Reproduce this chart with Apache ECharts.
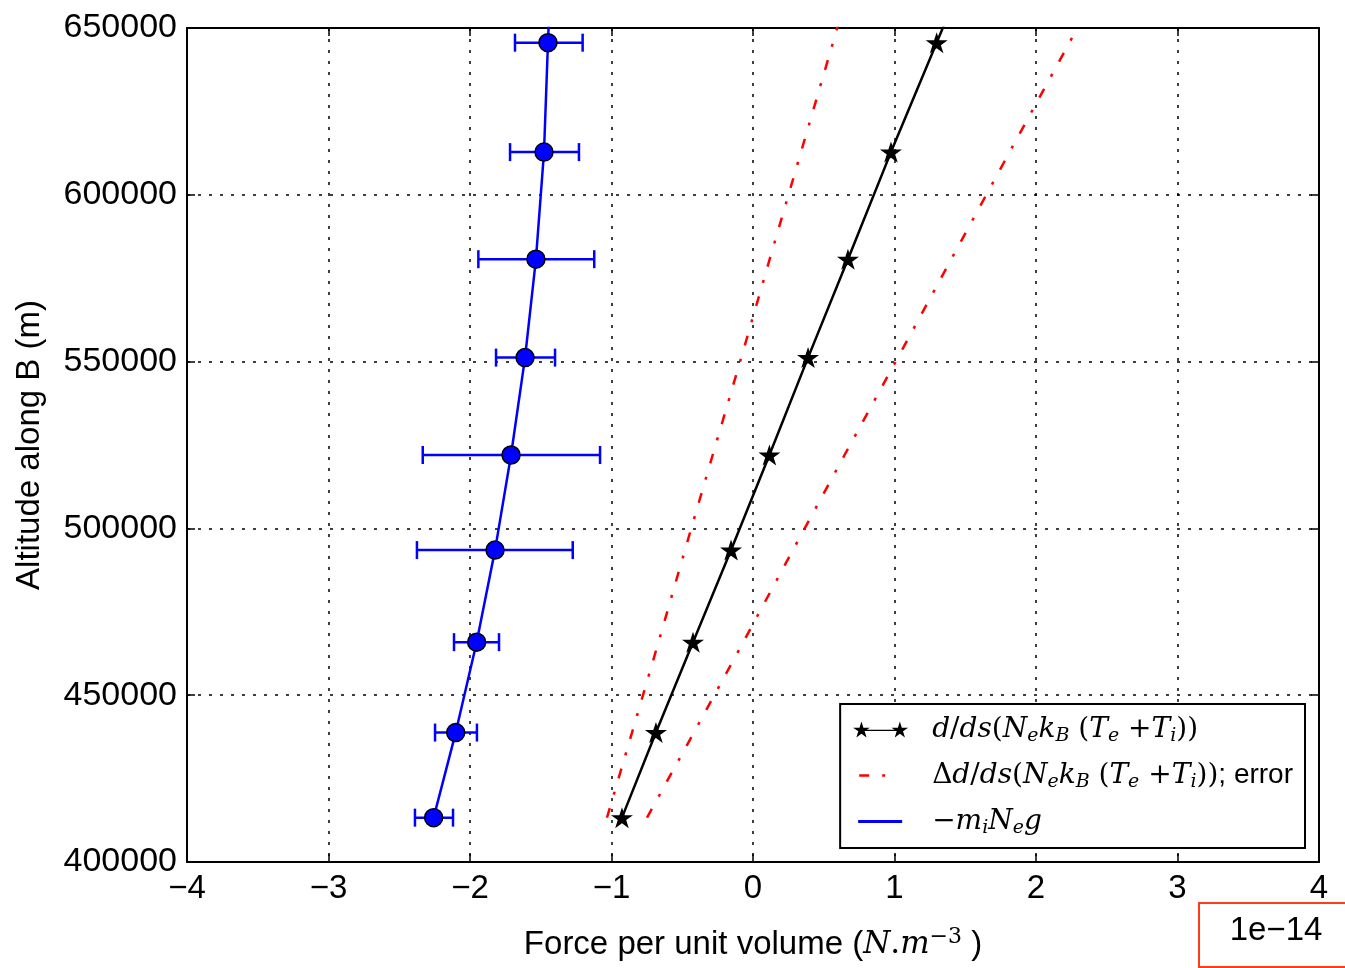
<!DOCTYPE html>
<html><head><meta charset="utf-8">
<script src="https://cdn.jsdelivr.net/npm/echarts@6/dist/echarts.min.js"></script>
<style>html,body{margin:0;padding:0;background:#fff}#c{width:1345px;height:968px}</style>
</head><body><div id="c"></div>
<script>
// Values in units of 1e-14 N.m^-3
const altitudes = [413300, 438800, 465900, 493500, 522000, 551200, 580700, 612800, 645600];
const extAltitude = 677500;
const gravityForce = [-2.257, -2.101, -1.953, -1.823, -1.710, -1.611, -1.534, -1.477, -1.449];
const gravityExt = -1.42;
const gravityLow = [-2.389, -2.247, -2.113, -2.375, -2.334, -1.816, -1.941, -1.717, -1.682];
const gravityHigh = [-2.120, -1.951, -1.795, -1.274, -1.081, -1.399, -1.122, -1.230, -1.204];
const pressureForce = [-0.926, -0.686, -0.424, -0.155, 0.116, 0.389, 0.671, 0.975, 1.298];
const pressureExt = 1.61;
const errorLowLine = [-1.032, -0.855, -0.668, -0.481, -0.285, -0.083, 0.118, 0.339, 0.565, 0.782];
const errorHighLine = [-0.749, -0.418, -0.069, 0.282, 0.647, 1.024, 1.401, 1.813, 2.236, 2.642];
const xTicks = [-4, -3, -2, -1, 0, 1, 2, 3, 4];
const yTicks = [400000, 450000, 500000, 550000, 600000, 650000];
const offsetText = '1e\u221214';

function starPath(cx, cy, R) {
  const r = R * 0.382;
  let d = '';
  for (let k = 0; k < 10; k++) {
    const ang = -Math.PI / 2 + k * Math.PI / 5;
    const rad = k % 2 === 0 ? R : r;
    const x = (cx + rad * Math.cos(ang)).toFixed(2);
    const y = (cy + rad * Math.sin(ang)).toFixed(2);
    d += (k === 0 ? 'M' : 'L') + x + ' ' + y + ' ';
  }
  return d + 'Z';
}
const starSymbol = 'path://' + starPath(50, 50, 50);
const starLineIcon = 'path://' + starPath(25, 25, 25) + ' ' + starPath(135, 25, 25) + ' M25 23 L135 23 L135 27 L25 27 Z';
const dashDotIcon = 'path://M0 1.25 L0 1.26 Z M6 0 L16 0 L16 2.5 L6 2.5 Z M29 0 L32 0 L32 2.5 L29 2.5 Z M55 1.25 L55 1.26 Z';
const lineIcon = 'path://M0 1.5 L0 1.51 Z M5 0 L49 0 L49 3 L5 3 Z M55 1.5 L55 1.51 Z';

const allAlt = altitudes.concat([extAltitude]);
const pressureData = altitudes.map((a, i) => [pressureForce[i], a]).concat([[pressureExt, extAltitude]]);
const gravityData = altitudes.map((a, i) => [gravityForce[i], a]).concat([[gravityExt, extAltitude]]);
const errLowData = allAlt.map((a, i) => [errorLowLine[i], a]);
const errHighData = allAlt.map((a, i) => [errorHighLine[i], a]);
const errBarData = altitudes.map((a, i) => [gravityLow[i], gravityHigh[i], a]);

const minus = v => String(v).replace('-', '\u2212');
const sans = 'Liberation Sans, Arial, sans-serif';
const serif = 'DejaVu Serif, Liberation Serif, serif';

const legendLabels = {
  'pressure': '{g| }{i|d}{r|/}{i|ds}{r|(}{i|N}{s|e}{i|k}{s|B}{r| (}{i|T}{s|e}{r| +}{i|T}{s|i}{r|))}',
  'error': '{g| }{r|\u0394}{i|d}{r|/}{i|ds}{r|(}{i|N}{s|e}{i|k}{s|B}{r| (}{i|T}{s|e}{r| +}{i|T}{s|i}{r|))}{t|; error}',
  'gravity': '{g| }{r|\u2212}{i|m}{s|i}{i|N}{s|e}{i|g}'
};

const axisLineStyle = {color: '#000', width: 2};
const tickStyle = {inside: true, length: 8, lineStyle: {color: '#000', width: 1.5}};
const gridLine = {show: true, lineStyle: {color: '#000', width: 1.5, type: [3, 8]}};

const chart = echarts.init(document.getElementById('c'), null, {renderer: 'canvas'});
chart.setOption({
  animation: false,
  backgroundColor: '#fff',
  grid: {left: 187, right: 26, top: 28, bottom: 106, containLabel: false, outerBoundsMode: 'none'},
  xAxis: [{
    type: 'value', min: xTicks[0], max: xTicks[xTicks.length - 1], interval: 1, position: 'bottom',
    axisLine: {show: true, onZero: false, lineStyle: axisLineStyle},
    axisTick: tickStyle,
    axisLabel: {formatter: minus, fontSize: 33, color: '#000', fontFamily: sans, margin: 10, showMinLabel: true, showMaxLabel: true},
    splitLine: gridLine,
    name: '{t|Force per unit volume (}{i|N}{r|.}{i|m}{p|\u22123}{t| )}',
    nameLocation: 'middle', nameGap: 63, nameMoveOverlap: false,
    nameTextStyle: {rich: {
      t: {fontFamily: sans, fontSize: 33, color: '#000', lineHeight: 40},
      i: {fontFamily: serif, fontStyle: 'italic', fontSize: 31, color: '#000', lineHeight: 40},
      r: {fontFamily: serif, fontSize: 31, color: '#000', lineHeight: 40},
      p: {fontFamily: serif, fontSize: 22, color: '#000', lineHeight: 24, padding: [0, 0, 16, 0]}
    }}
  }, {
    type: 'value', min: xTicks[0], max: xTicks[xTicks.length - 1], interval: 1, position: 'top',
    axisLine: {show: true, onZero: false, lineStyle: axisLineStyle},
    axisTick: tickStyle, axisLabel: {show: false}, splitLine: {show: false}
  }],
  yAxis: [{
    type: 'value', min: yTicks[0], max: yTicks[yTicks.length - 1], interval: 50000, position: 'left',
    axisLine: {show: true, onZero: false, lineStyle: axisLineStyle},
    axisTick: tickStyle,
    axisLabel: {formatter: v => String(v), fontSize: 34, color: '#000', fontFamily: sans, margin: 10, showMinLabel: true, showMaxLabel: true},
    splitLine: gridLine,
    name: 'Altitude along B (m)', nameLocation: 'middle', nameGap: 141, nameMoveOverlap: false,
    nameTextStyle: {fontSize: 33, color: '#000', fontFamily: sans}
  }, {
    type: 'value', min: yTicks[0], max: yTicks[yTicks.length - 1], interval: 50000, position: 'right',
    axisLine: {show: true, onZero: false, lineStyle: axisLineStyle},
    axisTick: tickStyle, axisLabel: {show: false}, splitLine: {show: false}
  }],
  legend: {
    orient: 'vertical', right: 40, bottom: 120,
    backgroundColor: '#fff', borderColor: '#000', borderWidth: 2, borderRadius: 0,
    padding: [9, 12, 10, 13], itemGap: 13, itemWidth: 55, itemHeight: 20,
    data: [
      {name: 'pressure', icon: starLineIcon, itemStyle: {color: '#000', borderWidth: 0}},
      {name: 'error', icon: dashDotIcon, itemStyle: {color: '#ff0000', borderWidth: 0}},
      {name: 'gravity', icon: lineIcon, itemStyle: {color: '#0000ff', borderWidth: 0}}
    ],
    formatter: n => legendLabels[n],
    textStyle: {color: '#000', rich: {
      g: {width: 19},
      i: {fontFamily: serif, fontStyle: 'italic', fontSize: 28, lineHeight: 34, color: '#000'},
      r: {fontFamily: serif, fontSize: 28, lineHeight: 34, color: '#000'},
      s: {fontFamily: serif, fontStyle: 'italic', fontSize: 19, lineHeight: 20, padding: [14, 0, 0, 0], color: '#000'},
      t: {fontFamily: sans, fontSize: 28, lineHeight: 34, color: '#000'}
    }}
  },
  graphic: [
    {type: 'rect', left: 1198, top: 902, shape: {width: 170, height: 64}, style: {fill: '#fff', stroke: '#ff3b1a', lineWidth: 2}, z: 10},
    {type: 'text', x: 1276, y: 931, style: {text: offsetText, fontSize: 33, fontFamily: sans, fill: '#000', align: 'center', verticalAlign: 'middle'}, z: 11}
  ],
  series: [
    {name: 'error', type: 'line', data: errLowData, symbol: 'none', clip: true,
     lineStyle: {color: '#ff0000', width: 2.5, type: [10, 14, 3, 14]}, itemStyle: {color: '#ff0000'}},
    {name: 'error', type: 'line', data: errHighData, symbol: 'none', clip: true,
     lineStyle: {color: '#ff0000', width: 2.5, type: [10, 14, 3, 14]}, itemStyle: {color: '#ff0000'}},
    {name: 'pressure', type: 'line', data: pressureData, symbol: starSymbol, symbolSize: [22, 21], clip: true,
     lineStyle: {color: '#000', width: 2.5}, itemStyle: {color: '#000', borderWidth: 0}, z: 3},
    {name: 'gravityErr', type: 'custom', data: errBarData, encode: {x: [0, 1], y: 2}, z: 3, clip: true,
     renderItem: (params, api) => {
       const lo = api.coord([api.value(0), api.value(2)]);
       const hi = api.coord([api.value(1), api.value(2)]);
       const h = 9;
       const st = {stroke: '#0000ff', lineWidth: 2.5, fill: null};
       return {type: 'group', children: [
         {type: 'line', shape: {x1: lo[0], y1: lo[1], x2: hi[0], y2: hi[1]}, style: st},
         {type: 'line', shape: {x1: lo[0], y1: lo[1] - h, x2: lo[0], y2: lo[1] + h}, style: st},
         {type: 'line', shape: {x1: hi[0], y1: hi[1] - h, x2: hi[0], y2: hi[1] + h}, style: st}
       ]};
     }},
    {name: 'gravity', type: 'line', data: gravityData, symbol: 'circle', symbolSize: 18, clip: true,
     lineStyle: {color: '#0000ff', width: 2.5}, itemStyle: {color: '#0000ff', borderColor: '#000', borderWidth: 1.5}, z: 4}
  ]
});
</script>
</body></html>
